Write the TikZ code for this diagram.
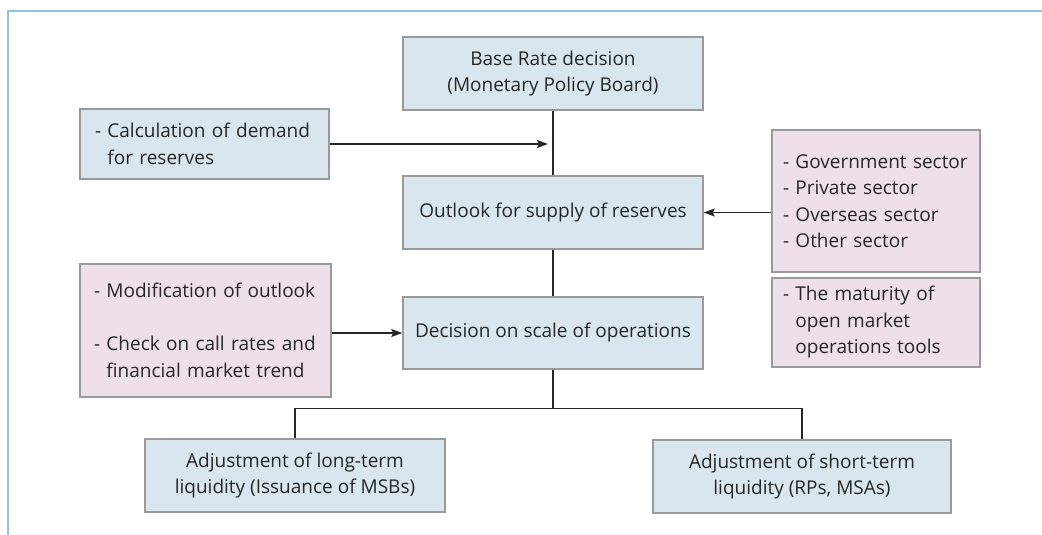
\documentclass[tikz,border=0pt]{standalone}
\usepackage{fontspec}
\setmainfont{Open Sans}
\usetikzlibrary{arrows.meta}
\definecolor{boxblue}{HTML}{DAE6EE}
\definecolor{boxpink}{HTML}{EDE0E8}
\definecolor{boxline}{HTML}{9A9A9A}
\definecolor{framecol}{HTML}{8EC6DA}
\definecolor{textcol}{HTML}{262626}

\begin{document}
\begin{tikzpicture}[x=1pt, y=-1pt,
    box/.style={draw=boxline, line width=1.5pt, text=textcol, inner ysep=0pt,
      font=\fontsize{19}{26.5}\selectfont},
    bluebox/.style={box, fill=boxblue, align=center, minimum width=300, minimum height=73},
    pinkbox/.style={box, fill=boxpink, align=left},
    conn/.style={draw=textcol, line width=1.3pt},
    >={Stealth[length=11pt, width=8pt, inset=2pt]}]
    \useasboundingbox (0,0) rectangle (1042,535);
    \pgfmathsetmacro{\xm}{553}
    \pgfmathsetmacro{\xl}{205}
    \pgfmathsetmacro{\xr}{876}
    \draw[framecol, line width=2pt] (8,535) -- (8,11) -- (1042,11);
    \node[bluebox] (base) at (\xm, 73.5) {Base Rate decision\\(Monetary Policy Board)};
    \node[bluebox] (outlook) at (\xm, 212.5) {Outlook for supply of reserves};
    \node[bluebox, minimum height=72] (decision) at (\xm, 333) {Decision on scale of operations};
    \node[bluebox] (longterm) at (295, 475.5) {Adjustment of long-term\\liquidity (Issuance of MSBs)};
    \node[bluebox, minimum width=298] (shortterm) at (802, 476.5) {Adjustment of short-term\\liquidity (RPs, MSAs)};
    \node[pinkbox, fill=boxblue, inner xsep=15pt, text width=219pt, minimum height=70] (demand) at (\xl-0.5, 144)
      {- Calculation of demand\\\phantom{- }for reserves};
    \node[pinkbox, inner xsep=14pt, text width=223pt, minimum height=133] (modify) at (\xl+0.5, 330.5)
      {- Modification of outlook\\[26.5pt]- Check on call rates and\\\phantom{- }financial market trend};
    \node[pinkbox, inner xsep=11pt, text width=186pt, minimum height=142] (sectors) at (\xr, 201)
      {- Government sector\\- Private sector\\- Overseas sector\\- Other sector};
    \node[pinkbox, inner xsep=11pt, text width=186pt, minimum height=89] (maturity) at (\xr, 322.5)
      {- The maturity of\\\phantom{- }open market\\\phantom{- }operations tools};
    \coordinate (join) at (\xm-5, 144);
    \draw[conn] (base) -- (outlook);
    \draw[conn, ->] (demand) -- (join);
    \draw[conn, ->] (sectors.west |- outlook) -- (outlook.east);
    \draw[conn] (outlook) -- (decision);
    \draw[conn, ->] (modify.east |- decision) -- (decision.west);
    \draw[conn] (decision.south) -- ++(0, 39) coordinate (split);
    \draw[conn] (longterm.north) |- (split) -| (shortterm.north);
\end{tikzpicture}
\end{document}
